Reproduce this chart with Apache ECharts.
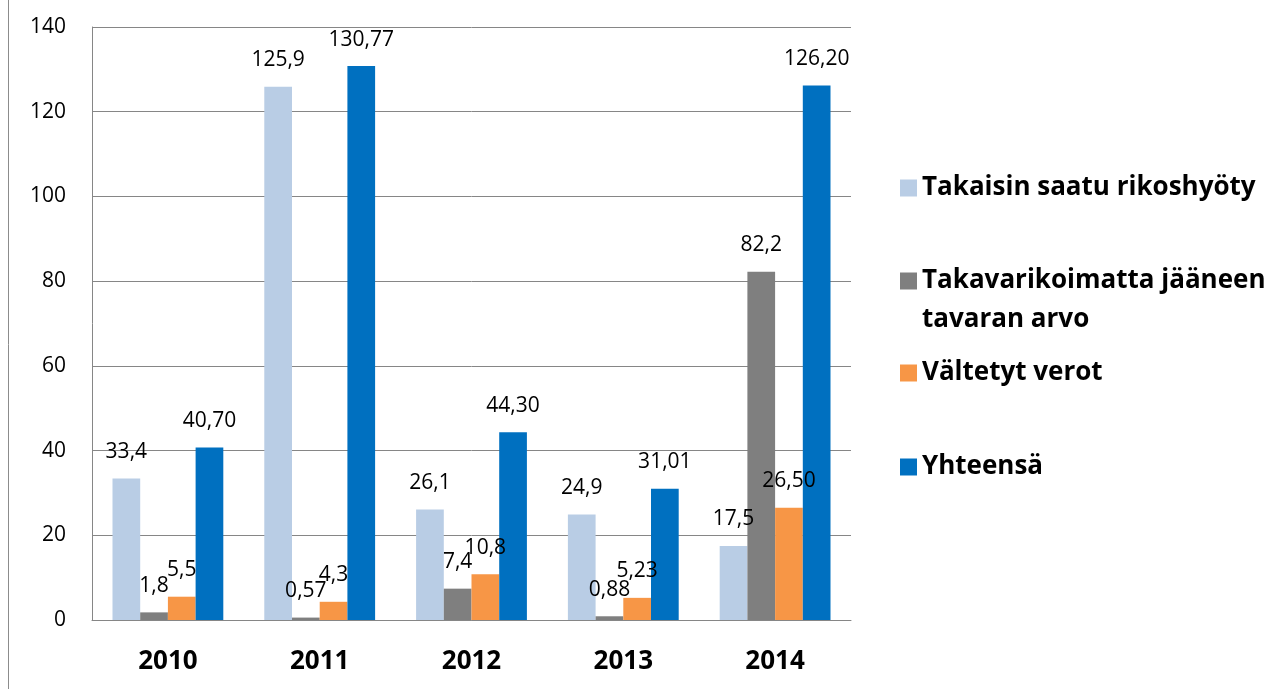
<!DOCTYPE html>
<html>
<head>
<meta charset="utf-8">
<script src="https://cdn.jsdelivr.net/npm/echarts@6/dist/echarts.min.js"></script>
<style>
  html, body { margin: 0; padding: 0; background: #fff; }
  #chart { width: 1271px; height: 689px; }
</style>
</head>
<body>
<div id="chart"></div>
<script>
// vuodet
var years = ["2010", "2011", "2012", "2013", "2014"];
var seriesNames = ["Takaisin saatu rikoshyöty", "Takavarikoimatta jääneen tavaran arvo", "Vältetyt verot", "Yhteensä"];
// arvot
var rikoshyoty = [33.4, 125.9, 26.1, 24.9, 17.5];
var takavarikoimatta = [1.8, 0.57, 7.4, 0.88, 82.2];
var verot = [5.5, 4.3, 10.8, 5.23, 26.5];
var yhteensa = [40.7, 130.77, 44.3, 31.01, 126.2];
// arvojen tekstit kuten kuvassa
var rikoshyotyLabels = ["33,4", "125,9", "26,1", "24,9", "17,5"];
var takavarikoimattaLabels = ["1,8", "0,57", "7,4", "0,88", "82,2"];
var verotLabels = ["5,5", "4,3", "10,8", "5,23", "26,50"];
var yhteensaLabels = ["40,70", "130,77", "44,30", "31,01", "126,20"];
var yTicks = [0, 20, 40, 60, 80, 100, 120, 140];

var colors = ["#B9CDE5", "#7F7F7F", "#F79646", "#0070C0"];
var font = "Open Sans";

function bar(name, data, labels, color) {
  return {
    name: name,
    type: "bar",
    data: data,
    barGap: "0%",
    barCategoryGap: "27%",
    itemStyle: { color: color },
    label: {
      show: true,
      position: "top",
      distance: 16,
      color: "#000",
      fontFamily: font,
      fontSize: 21,
      formatter: function (p) { return labels[p.dataIndex]; }
    }
  };
}

function legendItem(name, top, text) {
  return {
    data: [name],
    orient: "vertical",
    left: 895,
    top: top,
    icon: "rect",
    itemWidth: 17,
    itemHeight: 17,
    itemGap: 8,
    formatter: function () { return text; },
    textStyle: { fontFamily: font, fontSize: 26, fontWeight: "bold", color: "#000" }
  };
}

var myChart = echarts.init(document.getElementById("chart"));
myChart.setOption({
  animation: false,
  grid: { left: 92, right: 420, top: 27, bottom: 69 },
  legend: [
    legendItem(seriesNames[0], 170, "Takaisin saatu rikoshyöty"),
    legendItem(seriesNames[1], 263, "Takavarikoimatta jääneen"),
    legendItem(seriesNames[2], 355, "Vältetyt verot"),
    legendItem(seriesNames[3], 449, "Yhteensä")
  ],
  graphic: [
    {
      type: "text",
      left: 922,
      top: 307,
      style: { text: "tavaran arvo", fontFamily: font, fontSize: 26, fontWeight: "bold", fill: "#000" }
    },
    {
      type: "line",
      shape: { x1: 8.5, y1: 0, x2: 8.5, y2: 689 },
      style: { stroke: "#8c8c8c", lineWidth: 1 }
    }
  ],
  xAxis: {
    type: "category",
    data: years,
    axisLine: { lineStyle: { color: "#868686" } },
    axisTick: { show: false },
    axisLabel: { margin: 29, color: "#000", fontFamily: font, fontSize: 26, fontWeight: "bold" }
  },
  yAxis: {
    type: "value",
    min: yTicks[0],
    max: yTicks[yTicks.length - 1],
    interval: 20,
    axisLine: { show: true, lineStyle: { color: "#868686" } },
    axisTick: { show: false },
    splitLine: { lineStyle: { color: "#868686" } },
    axisLabel: { margin: 26, color: "#000", fontFamily: font, fontSize: 21 }
  },
  series: [
    bar(seriesNames[0], rikoshyoty, rikoshyotyLabels, colors[0]),
    bar(seriesNames[1], takavarikoimatta, takavarikoimattaLabels, colors[1]),
    bar(seriesNames[2], verot, verotLabels, colors[2]),
    bar(seriesNames[3], yhteensa, yhteensaLabels, colors[3])
  ]
});
</script>
</body>
</html>
